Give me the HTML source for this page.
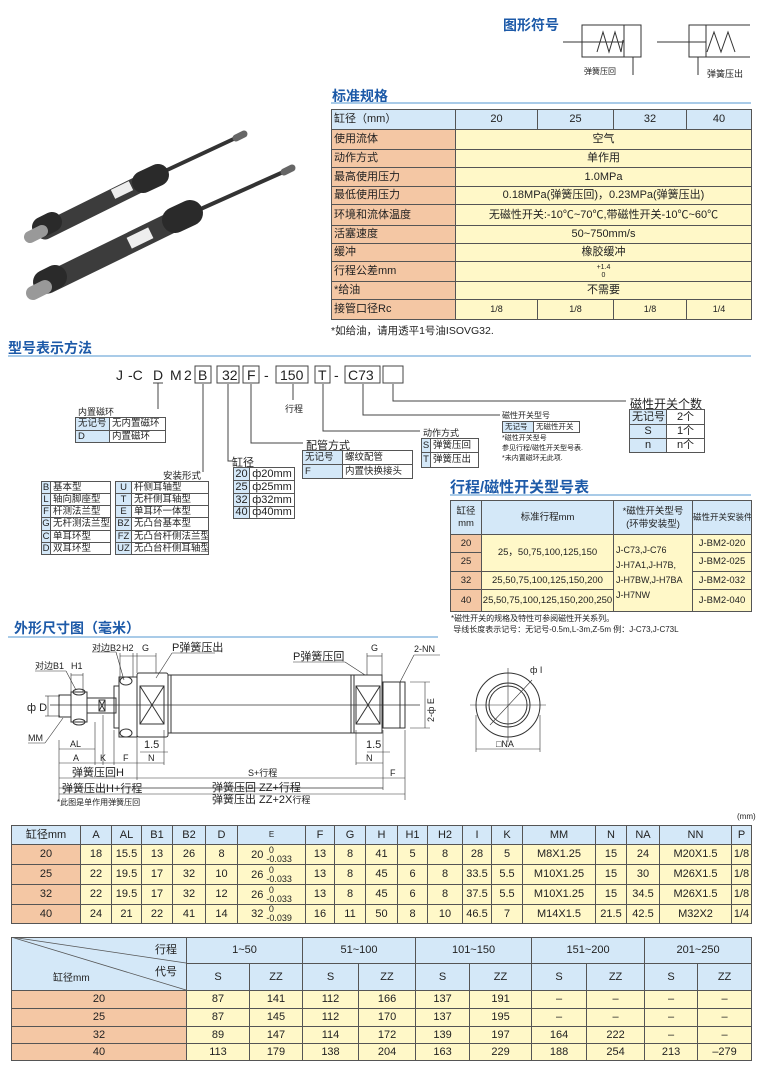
<!DOCTYPE html>
<html><head><meta charset="utf-8"><style>
*{margin:0;padding:0;box-sizing:border-box}
body{width:760px;height:1067px;background:#fff;position:relative;overflow:hidden;font-family:"Liberation Sans","Noto Sans CJK SC",sans-serif;color:#222}
.a{position:absolute;white-space:nowrap}
.ttl{position:absolute;color:#1d5aa8;font-weight:bold;font-size:14px;white-space:nowrap}
.ln{position:absolute;height:2px;background:#a9cbe8}
table{position:absolute;border-collapse:collapse;table-layout:fixed}
td{border:1px solid #555;padding:0;text-align:center;white-space:nowrap;overflow:hidden;font-size:11px;line-height:1}
.b{background:#d4e8f8}.o{background:#f4c7a4}.y{background:#fff8c8}.w{background:#fff}
.sm td{font-size:9.5px}
.l{text-align:left;padding-left:2px}
.fr{display:inline-block;vertical-align:middle;font-size:9px;line-height:9px;text-align:left;margin-left:3px}
</style></head><body>

<!-- product photo -->
<svg class="a" style="left:0;top:100px" width="320" height="230">
<g stroke-linecap="round">
<line x1="150" y1="78" x2="240" y2="36" stroke="#333" stroke-width="4"/>
<line x1="236" y1="38" x2="244" y2="34" stroke="#666" stroke-width="7"/>
<line x1="45" y1="131" x2="150" y2="79" stroke="#3c3c3c" stroke-width="17"/>
<line x1="143" y1="82" x2="158" y2="75" stroke="#2a2a2a" stroke-width="22"/>
<line x1="42" y1="127" x2="52" y2="122" stroke="#2a2a2a" stroke-width="20"/>
<line x1="30" y1="137" x2="42" y2="131" stroke="#999" stroke-width="12"/>
<line x1="185" y1="116" x2="290" y2="69" stroke="#333" stroke-width="4"/>
<line x1="284" y1="72" x2="292" y2="68" stroke="#666" stroke-width="7"/>
<line x1="48" y1="183" x2="185" y2="116" stroke="#3c3c3c" stroke-width="21"/>
<line x1="175" y1="120" x2="190" y2="113" stroke="#2a2a2a" stroke-width="26"/>
<line x1="45" y1="182" x2="55" y2="177" stroke="#2a2a2a" stroke-width="24"/>
<line x1="33" y1="193" x2="45" y2="187" stroke="#999" stroke-width="14"/>
<rect x="112" y="85" width="20" height="10" fill="#eee" transform="rotate(-26 122 90)"/>
<rect x="128" y="132" width="24" height="12" fill="#eee" transform="rotate(-26 140 138)"/>
</g></svg>

<!-- symbols -->
<div class="ttl" style="left:503px;top:15px">图形符号</div>
<svg class="a" style="left:550px;top:18px" width="210" height="62" fill="none" stroke="#333" stroke-width="1">
<g transform="translate(-550,-18)">
<rect x="582" y="25" width="59" height="32"/>
<line x1="563" y1="42" x2="624" y2="42"/><line x1="624" y1="25" x2="624" y2="57"/>
<polyline points="597,52 603,32 609,52 615,32 621,52 623,40"/>
<line x1="633" y1="57" x2="633" y2="75"/>
<polyline points="750,25 689,25 689,57 750,57"/>
<line x1="657" y1="42" x2="706" y2="42"/><line x1="706" y1="25" x2="706" y2="57"/>
<polyline points="707,52 714,32 721,52 728,32 735,52"/>
<line x1="698" y1="57" x2="698" y2="75"/>
</g></svg>
<div class="a" style="left:584px;top:66px;font-size:8px">弹簧压回</div>
<div class="a" style="left:707px;top:67px;font-size:9px">弹簧压出</div>

<!-- spec -->
<div class="ttl" style="left:332px;top:86px">标准规格</div>
<div class="ln" style="left:331px;top:102px;width:420px"></div>
<table style="left:331px;top:109px;width:420px">
<col style="width:124px"><col style="width:82px"><col style="width:76px"><col style="width:73px"><col style="width:65px">
<tr style="height:20px"><td class="b l">缸径（mm）</td><td class="b">20</td><td class="b">25</td><td class="b">32</td><td class="b">40</td></tr>
<tr style="height:20px"><td class="o l">使用流体</td><td class="y" colspan="4">空气</td></tr>
<tr style="height:18px"><td class="o l">动作方式</td><td class="y" colspan="4">单作用</td></tr>
<tr style="height:19px"><td class="o l">最高使用压力</td><td class="y" colspan="4">1.0MPa</td></tr>
<tr style="height:18px"><td class="o l">最低使用压力</td><td class="y" colspan="4">0.18MPa(弹簧压回)，0.23MPa(弹簧压出)</td></tr>
<tr style="height:21px"><td class="o l">环境和流体温度</td><td class="y" colspan="4">无磁性开关:-10℃~70℃,带磁性开关-10℃~60℃</td></tr>
<tr style="height:18px"><td class="o l">活塞速度</td><td class="y" colspan="4">50~750mm/s</td></tr>
<tr style="height:18px"><td class="o l">缓冲</td><td class="y" colspan="4">橡胶缓冲</td></tr>
<tr style="height:20px"><td class="o l">行程公差mm</td><td class="y" colspan="4" style="font-size:7px;line-height:8px">+1.4<br>0</td></tr>
<tr style="height:18px"><td class="o l">*给油</td><td class="y" colspan="4">不需要</td></tr>
<tr style="height:20px"><td class="o l">接管口径Rc</td><td class="y" style="font-size:9px">1/8</td><td class="y" style="font-size:9px">1/8</td><td class="y" style="font-size:9px">1/8</td><td class="y" style="font-size:9px">1/4</td></tr>
</table>
<div class="a" style="left:331px;top:323px;font-size:10.5px">*如给油，请用透平1号油ISOVG32.</div>

<!-- model code -->
<div class="ttl" style="left:8px;top:338px">型号表示方法</div>
<div class="ln" style="left:8px;top:355px;width:743px"></div>
<div class="a" style="left:116px;top:367px;font-size:14px">J</div>
<div class="a" style="left:128px;top:367px;font-size:14px">-C</div>
<div class="a" style="left:153px;top:367px;font-size:14px">D</div>
<div class="a" style="left:170px;top:367px;font-size:14px">M</div>
<div class="a" style="left:184px;top:367px;font-size:14px">2</div>
<svg class="a" style="left:0;top:0" width="760" height="620" fill="none" stroke="#444" stroke-width="1">
<rect x="195" y="366" width="16" height="17"/><rect x="217" y="366" width="22" height="17"/>
<rect x="243" y="366" width="16" height="17"/><rect x="276" y="366" width="32" height="17"/>
<rect x="315" y="366" width="15" height="17"/><rect x="345" y="366" width="35" height="17"/>
<rect x="383" y="366" width="20" height="17"/>
<polyline points="158,383 158,409"/><line x1="153" y1="383" x2="163" y2="383"/>
<polyline points="203,384 203,472"/>
<polyline points="228,384 228,461 233,461"/>
<polyline points="251,384 251,443 303,443"/>
<polyline points="293,384 293,400"/>
<polyline points="323,384 323,431 420,431"/>
<polyline points="363,384 363,415 500,415"/>
<polyline points="393,384 393,401 626,401"/>
</svg>
<div class="a" style="left:222px;top:367px;font-size:14px">32</div>
<div class="a" style="left:198px;top:367px;font-size:14px">B</div>
<div class="a" style="left:247px;top:367px;font-size:14px">F</div>
<div class="a" style="left:264px;top:367px;font-size:14px">-</div>
<div class="a" style="left:280px;top:367px;font-size:14px">150</div>
<div class="a" style="left:318px;top:367px;font-size:14px">T</div>
<div class="a" style="left:334px;top:367px;font-size:14px">-</div>
<div class="a" style="left:348px;top:367px;font-size:14px">C73</div>
<div class="a" style="left:285px;top:402px;font-size:9px">行程</div>

<div class="a" style="left:78px;top:405px;font-size:9px">内置磁环</div>
<table class="sm" style="left:75px;top:417px;width:90px">
<col style="width:34px"><col style="width:56px">
<tr style="height:13px"><td class="b l">无记号</td><td class="w l">无内置磁环</td></tr>
<tr style="height:12px"><td class="b l">D</td><td class="w l">内置磁环</td></tr></table>

<div class="a" style="left:163px;top:468px;font-size:9.5px">安装形式</div>
<table class="sm" style="left:41px;top:481px;width:69px">
<col style="width:9px"><col style="width:60px">
<tr style="height:12px"><td class="b">B</td><td class="w l">基本型</td></tr>
<tr style="height:12px"><td class="b">L</td><td class="w l">轴向脚座型</td></tr>
<tr style="height:12px"><td class="b">F</td><td class="w l">杆测法兰型</td></tr>
<tr style="height:13px"><td class="b">G</td><td class="w l">无杆测法兰型</td></tr>
<tr style="height:12px"><td class="b">C</td><td class="w l">单耳环型</td></tr>
<tr style="height:12px"><td class="b">D</td><td class="w l">双耳环型</td></tr></table>
<table class="sm" style="left:115px;top:481px;width:93px">
<col style="width:16px"><col style="width:77px">
<tr style="height:12px"><td class="b">U</td><td class="w l">杆侧耳轴型</td></tr>
<tr style="height:12px"><td class="b">T</td><td class="w l">无杆侧耳轴型</td></tr>
<tr style="height:12px"><td class="b">E</td><td class="w l">单耳环一体型</td></tr>
<tr style="height:13px"><td class="b">BZ</td><td class="w l">无凸台基本型</td></tr>
<tr style="height:12px"><td class="b">FZ</td><td class="w l">无凸台杆侧法兰型</td></tr>
<tr style="height:12px"><td class="b">UZ</td><td class="w l">无凸台杆侧耳轴型</td></tr></table>

<div class="a" style="left:232px;top:454px;font-size:11px">缸径</div>
<table style="left:233px;top:467px;width:61px">
<col style="width:16px"><col style="width:45px">
<tr style="height:13px"><td class="b">20</td><td class="w">ф20mm</td></tr>
<tr style="height:13px"><td class="b">25</td><td class="w">ф25mm</td></tr>
<tr style="height:13px"><td class="b">32</td><td class="w">ф32mm</td></tr>
<tr style="height:12px"><td class="b">40</td><td class="w">ф40mm</td></tr></table>

<div class="a" style="left:306px;top:437px;font-size:11px">配管方式</div>
<table class="sm" style="left:302px;top:450px;width:110px">
<col style="width:40px"><col style="width:70px">
<tr style="height:14px"><td class="b l">无记号</td><td class="w l">螺纹配管</td></tr>
<tr style="height:14px"><td class="b l">F</td><td class="w l">内置快换接头</td></tr></table>

<div class="a" style="left:423px;top:426px;font-size:9px">动作方式</div>
<table class="sm" style="left:421px;top:438px;width:57px">
<col style="width:9px"><col style="width:48px">
<tr style="height:14px"><td class="b">S</td><td class="w l">弹簧压回</td></tr>
<tr style="height:15px"><td class="b">T</td><td class="w l">弹簧压出</td></tr></table>

<div class="a" style="left:502px;top:410px;font-size:8px">磁性开关型号</div>
<table style="left:502px;top:421px;width:77px">
<col style="width:31px"><col style="width:46px">
<tr style="height:11px"><td class="b l" style="font-size:7.5px">无记号</td><td class="w l" style="font-size:7.5px">无磁性开关</td></tr></table>
<div class="a" style="left:502px;top:434px;font-size:7px;line-height:10px">*磁性开关型号<br>参见行程/磁性开关型号表.<br>*未内置磁环无此项.</div>

<div class="a" style="left:630px;top:395px;font-size:12px">磁性开关个数</div>
<table style="left:629px;top:409px;width:75px">
<col style="width:37px"><col style="width:38px">
<tr style="height:15px"><td class="b l" style="font-size:11px">无记号</td><td class="w" style="font-size:11px">2个</td></tr>
<tr style="height:14px"><td class="b" style="font-size:11px">S</td><td class="w" style="font-size:11px">1个</td></tr>
<tr style="height:14px"><td class="b" style="font-size:11px">n</td><td class="w" style="font-size:11px">n个</td></tr></table>

<div class="ttl" style="left:450px;top:476px;font-size:15px">行程/磁性开关型号表</div>
<div class="ln" style="left:450px;top:494px;width:301px"></div>
<table class="sm" style="left:450px;top:500px;width:301px">
<col style="width:31px"><col style="width:132px"><col style="width:79px"><col style="width:59px">
<tr style="height:34px"><td class="b" style="line-height:12px">缸径<br>mm</td><td class="b">标准行程mm</td><td class="b" style="line-height:13px">*磁性开关型号<br>(环带安装型)</td><td class="b" style="font-size:8.5px">磁性开关安装件</td></tr>
<tr style="height:18px"><td class="o">20</td><td class="y" rowspan="2">25，50,75,100,125,150</td><td class="y l" rowspan="4" style="line-height:15px;font-size:9px">J-C73,J-C76<br>J-H7A1,J-H7B,<br>J-H7BW,J-H7BA<br>J-H7NW</td><td class="y">J-BM2-020</td></tr>
<tr style="height:19px"><td class="o">25</td><td class="y">J-BM2-025</td></tr>
<tr style="height:18px"><td class="o">32</td><td class="y">25,50,75,100,125,150,200</td><td class="y">J-BM2-032</td></tr>
<tr style="height:22px"><td class="o">40</td><td class="y">25,50,75,100,125,150,200,250</td><td class="y">J-BM2-040</td></tr></table>
<div class="a" style="left:451px;top:613px;font-size:8px;line-height:11px">*磁性开关的规格及特性可参阅磁性开关系列。<br>&nbsp;导线长度表示记号：无记号-0.5m,L-3m,Z-5m 例：J-C73,J-C73L</div>

<!-- dimension drawing -->
<div class="ttl" style="left:14px;top:618px">外形尺寸图（毫米）</div>
<div class="ln" style="left:8px;top:636px;width:430px"></div>
<svg class="a" style="left:0;top:0" width="760" height="820" fill="none" stroke="#333" stroke-width="1" font-family="Liberation Sans,Noto Sans CJK SC,sans-serif">
<line x1="50" y1="705" x2="420" y2="705" stroke-width="0.7"/>
<rect x="59" y="695" width="12" height="22"/>
<path d="M71 692 L87 692 L87 722 L71 722 Z"/><ellipse cx="79" cy="692" rx="6" ry="3"/><ellipse cx="79" cy="722" rx="6" ry="3"/>
<rect x="87" y="698" width="29" height="15"/>
<rect x="99" y="700" width="6" height="11"/><line x1="99" y1="700" x2="105" y2="711"/><line x1="105" y1="700" x2="99" y2="711"/>
<rect x="114" y="686" width="5" height="42"/>
<path d="M119 677 L137 677 L137 737 L119 737 Z"/><ellipse cx="126" cy="681" rx="6" ry="4"/><ellipse cx="126" cy="733" rx="6" ry="4"/>
<rect x="137" y="673" width="31" height="64" rx="2"/>
<rect x="140" y="686" width="24" height="38"/><line x1="140" y1="686" x2="164" y2="724"/><line x1="164" y1="686" x2="140" y2="724"/>
<rect x="168" y="675" width="186" height="58"/>
<line x1="171" y1="675" x2="171" y2="733"/><line x1="351" y1="675" x2="351" y2="733"/>
<rect x="354" y="675" width="28" height="58"/>
<rect x="356" y="686" width="24" height="38"/><line x1="356" y1="686" x2="380" y2="724"/><line x1="380" y1="686" x2="356" y2="724"/>
<rect x="383" y="682" width="22" height="46"/><line x1="400" y1="682" x2="400" y2="728"/>
<line x1="410" y1="682" x2="430" y2="682" stroke-width="0.6"/><line x1="410" y1="728" x2="430" y2="728" stroke-width="0.6"/>
<line x1="425" y1="682" x2="425" y2="728" stroke-width="0.6"/>
<g stroke-width="0.6">
<line x1="59" y1="740" x2="59" y2="800"/><line x1="95" y1="722" x2="95" y2="765"/><line x1="103" y1="715" x2="103" y2="765"/>
<line x1="114" y1="730" x2="114" y2="765"/><line x1="137" y1="737" x2="137" y2="780"/><line x1="164" y1="730" x2="164" y2="765"/>
<line x1="383" y1="730" x2="383" y2="790"/><line x1="405" y1="730" x2="405" y2="800"/><line x1="356" y1="730" x2="356" y2="765"/>
<line x1="59" y1="749" x2="95" y2="749"/><line x1="59" y1="763" x2="164" y2="763"/>
<line x1="59" y1="778" x2="383" y2="778"/><line x1="383" y1="778" x2="405" y2="778"/>
<line x1="59" y1="788" x2="383" y2="788"/><line x1="137" y1="788" x2="383" y2="788"/>
<line x1="59" y1="794" x2="405" y2="794"/>
<line x1="356" y1="763" x2="383" y2="763"/>
<line x1="120" y1="653" x2="120" y2="680"/><line x1="133" y1="653" x2="133" y2="677"/><line x1="137" y1="653" x2="137" y2="673"/><line x1="156" y1="653" x2="156" y2="673"/>
<line x1="120" y1="656" x2="137" y2="656"/><line x1="137" y1="656" x2="156" y2="656"/>
<line x1="367" y1="653" x2="367" y2="675"/><line x1="382" y1="653" x2="382" y2="675"/><line x1="367" y1="656" x2="382" y2="656"/>
<line x1="71" y1="673" x2="71" y2="692"/><line x1="83" y1="673" x2="83" y2="692"/><line x1="71" y1="675" x2="83" y2="675"/>
<line x1="45" y1="696" x2="60" y2="696"/><line x1="45" y1="716" x2="60" y2="716"/><line x1="48" y1="696" x2="48" y2="716"/>
<line x1="35" y1="671" x2="66" y2="671"/><line x1="66" y1="671" x2="76" y2="690"/>
<line x1="92" y1="652" x2="116" y2="652"/><line x1="116" y1="652" x2="124" y2="680"/>
<line x1="172" y1="653" x2="215" y2="653"/><line x1="172" y1="653" x2="156" y2="678"/>
<line x1="293" y1="662" x2="345" y2="662"/><line x1="345" y1="662" x2="365" y2="675"/>
<line x1="414" y1="655" x2="440" y2="655"/><line x1="414" y1="655" x2="400" y2="682"/>
<line x1="28" y1="743" x2="45" y2="743"/><line x1="45" y1="743" x2="63" y2="718"/>
<line x1="140" y1="752" x2="168" y2="752"/><line x1="367" y1="752" x2="390" y2="752"/>
<line x1="476" y1="715" x2="476" y2="752"/><line x1="540" y1="715" x2="540" y2="752"/><line x1="476" y1="749" x2="540" y2="749"/>
</g>
<circle cx="508" cy="705" r="32"/><circle cx="508" cy="705" r="22"/><circle cx="508" cy="705" r="19"/>
<line x1="470" y1="705" x2="546" y2="705" stroke-width="0.6"/><line x1="508" y1="668" x2="508" y2="742" stroke-width="0.6"/>
<line x1="490" y1="725" x2="532" y2="680" stroke-width="0.6"/>
<g fill="#222" stroke="none" font-size="9">
<text x="92" y="651">对边B2</text><text x="122" y="651">H2</text><text x="142" y="651">G</text>
<text x="172" y="651" font-size="11">P弹簧压出</text><text x="35" y="669">对边B1</text><text x="71" y="669">H1</text>
<text x="27" y="711" font-size="11">ф D</text><text x="28" y="741">MM</text>
<text x="293" y="660" font-size="11">P弹簧压回</text><text x="371" y="651">G</text><text x="414" y="652">2-NN</text>
<text x="434" y="722" transform="rotate(-90 434 722)">2-ф E</text>
<text x="144" y="748" font-size="11">1.5</text><text x="366" y="748" font-size="11">1.5</text>
<text x="70" y="747">AL</text><text x="73" y="761">A</text><text x="100" y="761">K</text><text x="123" y="761">F</text>
<text x="148" y="761">N</text><text x="366" y="761">N</text><text x="390" y="776">F</text>
<text x="248" y="776">S+行程</text>
<text x="72" y="776" font-size="11">弹簧压回H</text>
<text x="62" y="792" font-size="11">弹簧压出H+行程</text>
<text x="212" y="791" font-size="11">弹簧压回 ZZ+行程</text>
<text x="212" y="803" font-size="11">弹簧压出 ZZ+2X<tspan font-size="9">行程</tspan></text>
<text x="57" y="805" font-size="8">*此图是单作用弹簧压回</text>
<text x="530" y="673">ф I</text><text x="496" y="747">□NA</text>
</g></svg>

<!-- dimension tables -->
<div class="a" style="left:737px;top:812px;font-size:8px">(mm)</div>
<table style="left:11px;top:825px;width:740px">
<col style="width:69px"><col style="width:31px"><col style="width:30px"><col style="width:31px"><col style="width:33px"><col style="width:32px"><col style="width:68px"><col style="width:29px"><col style="width:31px"><col style="width:32px"><col style="width:30px"><col style="width:35px"><col style="width:29px"><col style="width:31px"><col style="width:73px"><col style="width:31px"><col style="width:33px"><col style="width:72px"><col style="width:20px">
<tr style="height:19px" class="b"><td class="b">缸径mm</td><td class="b">A</td><td class="b">AL</td><td class="b">B1</td><td class="b">B2</td><td class="b">D</td><td class="b" style="font-size:8px">E</td><td class="b">F</td><td class="b">G</td><td class="b">H</td><td class="b">H1</td><td class="b">H2</td><td class="b">I</td><td class="b">K</td><td class="b">MM</td><td class="b">N</td><td class="b">NA</td><td class="b">NN</td><td class="b">P</td></tr>
<tr style="height:20px"><td class="o">20</td><td class="y">18</td><td class="y">15.5</td><td class="y">13</td><td class="y">26</td><td class="y">8</td><td class="y">20<span class="fr">&nbsp;0<br>-0.033</span></td><td class="y">13</td><td class="y">8</td><td class="y">41</td><td class="y">5</td><td class="y">8</td><td class="y">28</td><td class="y">5</td><td class="y">M8X1.25</td><td class="y">15</td><td class="y">24</td><td class="y">M20X1.5</td><td class="y">1/8</td></tr>
<tr style="height:20px"><td class="o">25</td><td class="y">22</td><td class="y">19.5</td><td class="y">17</td><td class="y">32</td><td class="y">10</td><td class="y">26<span class="fr">&nbsp;0<br>-0.033</span></td><td class="y">13</td><td class="y">8</td><td class="y">45</td><td class="y">6</td><td class="y">8</td><td class="y">33.5</td><td class="y">5.5</td><td class="y">M10X1.25</td><td class="y">15</td><td class="y">30</td><td class="y">M26X1.5</td><td class="y">1/8</td></tr>
<tr style="height:20px"><td class="o">32</td><td class="y">22</td><td class="y">19.5</td><td class="y">17</td><td class="y">32</td><td class="y">12</td><td class="y">26<span class="fr">&nbsp;0<br>-0.033</span></td><td class="y">13</td><td class="y">8</td><td class="y">45</td><td class="y">6</td><td class="y">8</td><td class="y">37.5</td><td class="y">5.5</td><td class="y">M10X1.25</td><td class="y">15</td><td class="y">34.5</td><td class="y">M26X1.5</td><td class="y">1/8</td></tr>
<tr style="height:19px"><td class="o">40</td><td class="y">24</td><td class="y">21</td><td class="y">22</td><td class="y">41</td><td class="y">14</td><td class="y">32<span class="fr">&nbsp;0<br>-0.039</span></td><td class="y">16</td><td class="y">11</td><td class="y">50</td><td class="y">8</td><td class="y">10</td><td class="y">46.5</td><td class="y">7</td><td class="y">M14X1.5</td><td class="y">21.5</td><td class="y">42.5</td><td class="y">M32X2</td><td class="y">1/4</td></tr>
</table>

<table style="left:11px;top:937px;width:740px">
<col style="width:175px"><col style="width:63px"><col style="width:53px"><col style="width:56px"><col style="width:57px"><col style="width:54px"><col style="width:62px"><col style="width:55px"><col style="width:58px"><col style="width:53px"><col style="width:54px">
<tr style="height:26px"><td class="b" rowspan="2"></td><td class="b" colspan="2">1~50</td><td class="b" colspan="2">51~100</td><td class="b" colspan="2">101~150</td><td class="b" colspan="2">151~200</td><td class="b" colspan="2">201~250</td></tr>
<tr style="height:27px"><td class="b">S</td><td class="b">ZZ</td><td class="b">S</td><td class="b">ZZ</td><td class="b">S</td><td class="b">ZZ</td><td class="b">S</td><td class="b">ZZ</td><td class="b">S</td><td class="b">ZZ</td></tr>
<tr style="height:18px"><td class="o">20</td><td class="y">87</td><td class="y">141</td><td class="y">112</td><td class="y">166</td><td class="y">137</td><td class="y">191</td><td class="y">–</td><td class="y">–</td><td class="y">–</td><td class="y">–</td></tr>
<tr style="height:18px"><td class="o">25</td><td class="y">87</td><td class="y">145</td><td class="y">112</td><td class="y">170</td><td class="y">137</td><td class="y">195</td><td class="y">–</td><td class="y">–</td><td class="y">–</td><td class="y">–</td></tr>
<tr style="height:17px"><td class="o">32</td><td class="y">89</td><td class="y">147</td><td class="y">114</td><td class="y">172</td><td class="y">139</td><td class="y">197</td><td class="y">164</td><td class="y">222</td><td class="y">–</td><td class="y">–</td></tr>
<tr style="height:17px"><td class="o">40</td><td class="y">113</td><td class="y">179</td><td class="y">138</td><td class="y">204</td><td class="y">163</td><td class="y">229</td><td class="y">188</td><td class="y">254</td><td class="y">213</td><td class="y">–279</td></tr>
</table>
<svg class="a" style="left:11px;top:937px" width="176" height="54" stroke="#555" stroke-width="0.8">
<line x1="0" y1="0" x2="175" y2="26"/><line x1="0" y1="0" x2="175" y2="53"/></svg>
<div class="a" style="left:155px;top:941px;font-size:11px">行程</div>
<div class="a" style="left:155px;top:963px;font-size:11px">代号</div>
<div class="a" style="left:53px;top:969px;font-size:10px">缸径mm</div>
</body></html>
